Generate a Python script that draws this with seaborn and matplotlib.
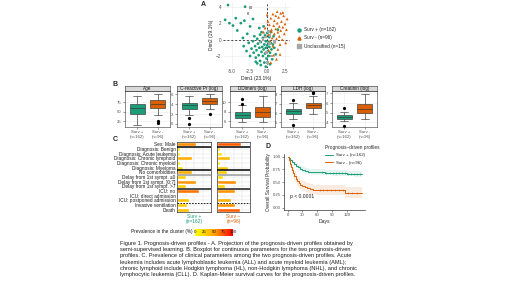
import numpy as np
import pandas as pd
import matplotlib as mpl
import matplotlib.pyplot as plt
from matplotlib.colors import LinearSegmentedColormap
from matplotlib.lines import Line2D
import seaborn as sns

sns.set_theme(style='white')
plt.rcParams['font.family'] = ['Liberation Sans', 'DejaVu Sans']

GREEN = '#1B9E77'
ORANGE = '#D95F02'
GREY = '#A6A6A6'
W, H = 520, 292

# ---------------- data ----------------
# A. projection (Dim1, Dim2)
plus_x = [-5.5, -3.1, -5.9, -5.3, -4.8, -4.4, -3.7, -3.2, -4.2, -2.4, -2.8, -3.4, -2.0,
          -2.6, -2.2, -2.0, -1.9, -1.8, -1.7, -1.6, -1.5, -1.4, -1.3, -1.2, -1.1, -1.0,
          -1.0, -0.9, -0.8, -0.8, -0.7, -0.6, -0.6, -0.5, -0.4, -0.4, -0.3, -0.3, -0.2,
          -0.2, -0.1, 0.0, 0.0, 0.1, 0.2, 0.2, 0.3, 0.3, 0.4, 0.5, 0.5, 0.6, 0.7, 0.8,
          0.9, 1.0, 1.2, -2.4, -1.4, -0.9, -2.9, -3.3, -1.1, -0.5, -0.2, 0.4, 1.5, -1.6]
plus_y = [4.2, 4.0, 2.4, 2.0, 1.7, 2.6, 2.0, 2.3, 1.1, 1.6, 0.7, 0.2, 2.5,
          -0.4, -1.1, -0.2, -1.6, 0.4, -0.8, -2.2, -1.3, 0.1, -0.5, -1.9, -1.0, 0.6,
          -2.6, -0.3, -1.5, 0.9, -0.9, -2.0, 0.2, -1.2, -0.6, -2.8, 0.5, -1.7, -0.2,
          -1.0, -2.3, -0.7, 0.8, -1.4, -0.3, -2.0, 0.3, -0.9, -1.6, -0.4, 0.9, -1.2, -2.4, -0.6,
          0.4, -1.0, -1.8, -2.0, -2.9, -3.1, -1.4, -0.8, 1.4, 1.6, -3.3, -3.0, 1.2, -2.7]
minus_x = [0.2, 0.3, 0.4, 0.5, 0.6, 0.7, 0.8, 0.8, 0.9, 1.0, 1.0, 1.1, 1.2, 1.2, 1.3,
           1.4, 1.5, 1.5, 1.6, 1.7, 1.7, 1.8, 1.9, 1.9, 2.0, 2.1, 2.2, 2.3, 2.4, 2.5,
           2.6, 2.7, 2.8, 0.1, 0.0, -0.3, -0.5, 0.9, 1.3, 0.5, 1.8, 0.2, 2.2, 1.4, 0.6]
minus_y = [0.6, 1.8, -0.2, 2.6, 1.2, 0.2, 3.1, -0.8, 1.7, 0.7, 2.3, -0.3, 1.3, 2.9, 0.1,
           2.0, 0.9, -1.2, 2.7, 0.4, 1.6, -0.6, 3.2, 1.1, 2.2, 0.0, 1.5, 2.9, 0.7, 1.9,
           -0.4, 1.2, 2.5, 2.2, 3.0, 1.4, 0.9, -1.9, -2.4, -2.8, -1.8, -1.3, 3.3, 3.4, 1.0]
uncl_x = [-2.7, -2.3, -0.2, 0.3, 0.2, 0.6, -1.0, 0.0, 1.0, -0.1, 0.4, -0.6]
uncl_y = [3.2, 3.9, 0.3, -0.5, 1.0, -2.0, -0.3, -2.8, -0.2, -1.6, 0.5, 0.0]
group_names = ['Surv + (n=162)', 'Surv - (n=96)', 'Unclassified (n=15)']

# B. continuous parameters (values giving the drawn boxes)
box_vars = ['Age', 'C-reactive Pr (log)', 'DDimers (log)', 'LDH (log)', 'Creatinin (log)']
age_plus = [16, 25, 35, 44, 50, 55, 60, 65, 68, 71.5, 80, 88, 92]
age_minus = [22, 25, 42, 60, 65, 68, 71.5, 74, 77, 80, 86, 92, 95]
crp_plus = [0.0, 1.1, 1.9, 3.1, 3.4, 3.6, 3.8, 4.0, 4.2, 4.3, 4.8, 5.2, 5.6]
crp_minus = [2.1, 3.1, 3.5, 4.0, 4.3, 4.5, 4.7, 4.9, 5.0, 5.2, 5.5, 5.8, 6.0]
dd_plus = [5.8, 6.2, 6.7, 6.7, 6.9, 7.1, 7.3, 7.5, 7.7, 7.85, 9.3, 9.7, 10.7]
dd_minus = [5.9, 6.3, 6.7, 7.0, 7.3, 7.6, 7.85, 8.2, 8.6, 8.9, 9.6, 10.5, 11.3]
ldh_plus = [4.75, 5.35, 5.6, 5.9, 6.0, 6.1, 6.2, 6.25, 6.3, 6.4, 6.7, 7.1, 7.45]
ldh_minus = [5.9, 6.1, 6.3, 6.5, 6.6, 6.8, 6.9, 6.95, 7.0, 7.1, 7.8, 8.1, 8.2]
creat_plus = [3.65, 4.1, 4.2, 4.35, 4.4, 4.5, 4.55, 4.6, 4.7, 4.75, 4.9, 5.1, 5.45]
creat_minus = [4.35, 4.6, 4.8, 4.95, 5.1, 5.25, 5.4, 5.55, 5.75, 5.95, 6.3, 6.6, 6.9]
box_plus = [age_plus, crp_plus, dd_plus, ldh_plus, creat_plus]
box_minus = [age_minus, crp_minus, dd_minus, ldh_minus, creat_minus]
box_ticks = [[25, 50, 75], [0, 2, 4, 6], [6, 8, 10], [5, 6, 7, 8], [4, 5, 6, 7]]
box_ylims = [(12, 104), (-0.55, 6.7), (4.95, 12.3), (4.57, 8.36), (3.58, 7.24)]
box_xlabels = ['Surv +\n(n=162)', 'Surv -\n(n=96)']

# C. prevalence of clinical parameters (%)
c_rows = ['Sex: Male', 'Diagnosis: Benign', 'Diagnosis: Acute leukemia',
          'Diagnosis: Chronic lymphoid', 'Diagnosis: Chronic myeloid', 'Diagnosis: Myeloma',
          'No comorbidities', 'Delay from 1st sympt. \u22640', 'Delay from 1st sympt. ]0;7]',
          'Delay from 1st sympt. >7', 'ICU: no', 'ICU: direct admission',
          'ICU: postponed admission', 'Invasive ventilation', 'Death']
c_plus = [57, 8, 9, 45, 8, 18, 45, 26, 55, 27, 65, 4, 34, 28, 34]
c_minus = [72, 10, 15, 38, 10, 32, 30, 18, 57, 25, 55, 5, 42, 55, 71]
c_colors = ['#FFFF00', '#FFA500', '#FF0000']

# D. Kaplan-Meier curves
km_t_plus = [0, 2, 5, 9, 13, 17, 21, 26, 30, 36, 42, 48, 60, 75, 90, 105, 120, 135, 150]
km_s_plus = [1.0, 0.97, 0.93, 0.89, 0.85, 0.82, 0.79, 0.76, 0.74, 0.72, 0.705, 0.70,
             0.695, 0.69, 0.68, 0.675, 0.67, 0.665, 0.665]
km_lo_plus = [1.0, 0.95, 0.90, 0.85, 0.81, 0.77, 0.74, 0.71, 0.69, 0.67, 0.655, 0.65,
              0.645, 0.64, 0.63, 0.625, 0.62, 0.61, 0.61]
km_hi_plus = [1.0, 0.99, 0.96, 0.93, 0.90, 0.87, 0.84, 0.81, 0.79, 0.77, 0.76, 0.755,
              0.75, 0.745, 0.735, 0.73, 0.725, 0.72, 0.72]
km_t_minus = [0, 2, 4, 6, 8, 10, 13, 16, 19, 22, 26, 30, 35, 40, 46, 52, 58, 65, 117, 150]
km_s_minus = [1.0, 0.93, 0.86, 0.80, 0.74, 0.68, 0.62, 0.57, 0.52, 0.48, 0.45, 0.42,
              0.40, 0.38, 0.36, 0.35, 0.345, 0.34, 0.29, 0.29]
km_lo_minus = [1.0, 0.88, 0.79, 0.72, 0.65, 0.59, 0.53, 0.48, 0.43, 0.39, 0.36, 0.33,
               0.31, 0.29, 0.27, 0.26, 0.255, 0.25, 0.19, 0.19]
km_hi_minus = [1.0, 0.98, 0.93, 0.88, 0.83, 0.78, 0.72, 0.67, 0.62, 0.58, 0.55, 0.52,
               0.50, 0.48, 0.46, 0.45, 0.44, 0.44, 0.41, 0.41]
cens_plus = [70, 78, 85, 92, 98, 104, 110, 116, 122, 128, 134, 140, 146]
cens_minus = [66, 72, 80, 88, 96, 104, 112, 122, 130, 140]

caption = (
    "Figure 1. Prognosis-driven profiles - A. Projection of the prognosis-driven profiles obtained by\n"
    "semi-supervised learning. B. Boxplot for continuous parameters for the two prognosis-driven\n"
    "profiles. C. Prevalence of clinical parameters among the two prognosis-driven profiles. Acute\n"
    "leukemia includes acute lymphoblastic leukemia (ALL) and acute myeloid leukemia (AML);\n"
    "chronic lymphoid include Hodgkin lymphoma (HL), non-Hodgkin lymphoma (NHL), and chronic\n"
    "lymphocytic leukemia (CLL). D. Kaplan-Meier survival curves for the prognosis-driven profiles.")


def px_box(x0, y0, x1, y1):
    return [x0 / W, 1 - y1 / H, (x1 - x0) / W, (y1 - y0) / H]


def small_ticks(ax, size=3.3):
    ax.tick_params(labelsize=size, length=1.5, width=0.4, pad=1, colors='#4D4D4D',
                   labelcolor='#4D4D4D', bottom=True, left=True)


fig = plt.figure(figsize=(5.2, 2.92), dpi=100)
fig.patch.set_facecolor('white')

# ---------------- A ----------------
ax = fig.add_axes(px_box(223, 2, 290, 68))
dfa = pd.DataFrame({
    'Dim1': plus_x + minus_x + uncl_x,
    'Dim2': plus_y + minus_y + uncl_y,
    'group': [group_names[0]] * len(plus_x) + [group_names[1]] * len(minus_x)
             + [group_names[2]] * len(uncl_x)})
pal_a = dict(zip(group_names, [GREEN, ORANGE, GREY]))
mk_a = dict(zip(group_names, ['o', '^', 's']))
sns.scatterplot(data=dfa, x='Dim1', y='Dim2', hue='group', style='group', palette=pal_a,
                markers=mk_a, s=4, linewidth=0, legend=False, ax=ax, zorder=3)
ax.axvline(0, color='#444444', ls=(0, (2, 2)), lw=0.7, zorder=2)
ax.axhline(0, color='#444444', ls=(0, (2, 2)), lw=0.7, zorder=2)
ax.set_xlim(-6.2, 3.2)
ax.set_ylim(-3.46, 4.57)
ax.set_xticks([-5, -2.5, 0, 2.5])
ax.set_xticklabels(['-5.0', '-2.5', '0.0', '2.5'])
ax.set_yticks([-2, 0, 2, 4])
ax.grid(True, color='#EBEBEB', lw=0.4)
for s in ax.spines.values():
    s.set_visible(False)
small_ticks(ax)
ax.tick_params(length=0)
ax.set_xlabel('Dim1 (23.1%)', fontsize=3.6, labelpad=1.5, color='#222222')
ax.set_ylabel('Dim2 (19.1%)', fontsize=3.6, labelpad=1.5, color='#222222')
handles = [Line2D([], [], marker=m, ls='none', color=c, markersize=2.2)
           for m, c in zip(['o', '^', 's'], [GREEN, ORANGE, GREY])]
ax.legend(handles, group_names, loc='center left', bbox_to_anchor=(295 / W, 1 - 38 / H),
          bbox_transform=fig.transFigure, frameon=False, fontsize=3.4, handlelength=0.8,
          handletextpad=0.5, labelspacing=0.7, borderpad=0)

# ---------------- B ----------------
facet_x = [(125, 170), (177, 222), (230, 275), (281, 325), (332, 377)]
for i, var in enumerate(box_vars):
    x0, x1 = facet_x[i]
    ax = fig.add_axes(px_box(x0, 91, x1, 126.5))
    p, m = box_plus[i], box_minus[i]
    dfb = pd.DataFrame({'group': [box_xlabels[0]] * len(p) + [box_xlabels[1]] * len(m),
                        'value': p + m})
    sns.boxplot(data=dfb, x='group', y='value', hue='group', palette=[GREEN, ORANGE],
                saturation=1, width=0.75, linewidth=0.45, linecolor='#333333', legend=False,
                flierprops=dict(marker='o', markerfacecolor='black', markeredgecolor='black',
                                markersize=1.3), ax=ax)
    ax.set_xlim(-0.6, 1.6)
    ax.set_ylim(*box_ylims[i])
    ax.set_yticks(box_ticks[i])
    ax.grid(True, color='#EBEBEB', lw=0.4)
    ax.set_axisbelow(True)
    for s in ax.spines.values():
        s.set_color('#333333')
        s.set_linewidth(0.4)
    small_ticks(ax, 3.1)
    ax.set_xlabel('')
    ax.set_ylabel('')
    sax = fig.add_axes(px_box(x0, 85.5, x1, 91))
    sax.set_facecolor('#D9D9D9')
    sax.set_xticks([])
    sax.set_yticks([])
    for s in sax.spines.values():
        s.set_color('#333333')
        s.set_linewidth(0.4)
    sax.text(0.5, 0.45, var, ha='center', va='center', fontsize=3.3, color='#1A1A1A',
             transform=sax.transAxes)

# ---------------- C ----------------
cmap = LinearSegmentedColormap.from_list('prev', c_colors)
col_x = [(177, 211), (217, 250)]
for j, vals in enumerate([c_plus, c_minus]):
    x0, x1 = col_x[j]
    ax = fig.add_axes(px_box(x0, 142, x1, 212))
    dfc = pd.DataFrame({'row': c_rows, 'pct': vals})
    sns.barplot(data=dfc, x='pct', y='row', hue='row', palette=[cmap(v / 100) for v in vals],
                saturation=1, width=0.9, legend=False, orient='h', ax=ax, zorder=2)
    ax.set_xlim(0, 100)
    ax.set_ylim(len(c_rows) - 0.5, -0.5)
    ax.set_xticks([25, 50, 75])
    ax.set_xticklabels([])
    ax.grid(True, color='#E0E0E0', lw=0.35)
    ax.set_axisbelow(True)
    ax.tick_params(length=0, labelsize=3.4, pad=1, labelcolor='#1A1A1A')
    if j == 1:
        ax.set_yticklabels([])
    ax.set_xlabel('')
    ax.set_ylabel('')
    for s in ax.spines.values():
        s.set_color('#333333')
        s.set_linewidth(0.5)
    ax.axhline(0.5, color='black', lw=1.1, zorder=4)
    ax.axhline(5.5, color='black', lw=1.1, zorder=4)
    ax.axhline(6.5, color='#9A9A9A', lw=1.1, zorder=4)
    ax.axhline(9.5, color='#4A4A4A', lw=1.4, zorder=4)
    ax.axhline(12.5, color='black', lw=0.6, ls=(0, (2, 1.5)), zorder=4)

fig.text(194 / W, 1 - 216.5 / H, 'Surv +', color=GREEN, fontsize=3.5, ha='center', va='center')
fig.text(194 / W, 1 - 222 / H, '(n=162)', color=GREEN, fontsize=3.5, ha='center', va='center')
fig.text(233.5 / W, 1 - 216.5 / H, 'Surv \u2013', color=ORANGE, fontsize=3.5, ha='center', va='center')
fig.text(233.5 / W, 1 - 222 / H, '(n=96)', color=ORANGE, fontsize=3.5, ha='center', va='center')

cax = fig.add_axes(px_box(195, 228.5, 233, 235.5))
cb = fig.colorbar(mpl.cm.ScalarMappable(norm=mpl.colors.Normalize(0, 100), cmap=cmap),
                  cax=cax, orientation='horizontal')
cb.set_ticks([])
cb.outline.set_visible(False)
for v in [0, 25, 50, 75, 100]:
    cax.text(v, 0.5, str(v), ha='center', va='center', fontsize=3.2, color='#1A1A1A')
fig.text(193 / W, 1 - 232 / H, 'Prevalence in the cluster (%)', ha='right', va='center',
         fontsize=3.4, color='#1A1A1A')

# ---------------- D ----------------
ax = fig.add_axes(px_box(284, 154, 365, 210))
km = [(km_t_plus, km_s_plus, km_lo_plus, km_hi_plus, cens_plus, GREEN, group_names[0]),
      (km_t_minus, km_s_minus, km_lo_minus, km_hi_minus, cens_minus, ORANGE, group_names[1])]
for t, s, lo, hi, cens, col, lab in km:
    ax.fill_between(t, lo, hi, step='post', color=col, alpha=0.12, lw=0)
    sns.lineplot(x=t, y=s, drawstyle='steps-post', color=col, lw=0.7, ax=ax, label=lab)
    idx = np.searchsorted(t, cens, side='right') - 1
    ax.plot(cens, np.array(s)[idx], ls='none', marker='+', ms=1.6, mew=0.4, color=col)
ax.set_xlim(-7.5, 157)
ax.set_ylim(-0.045, 1.053)
ax.set_xticks([0, 30, 60, 90, 120])
ax.set_yticks([0, 0.25, 0.5, 0.75, 1.0])
ax.set_yticklabels(['0.00', '0.25', '0.50', '0.75', '1.00'])
sns.despine(ax=ax)
for sp in ['left', 'bottom']:
    ax.spines[sp].set_linewidth(0.4)
    ax.spines[sp].set_color('black')
small_ticks(ax, 3.1)
ax.set_xlabel('Days', fontsize=3.6, labelpad=1)
ax.set_ylabel('Overall Survival Probability', fontsize=3.4, labelpad=1)
ax.text(5, 0.2, 'p < 0.0001', fontsize=3.6, color='#1A1A1A')
ax.legend(title='Prognosis\u2013driven profiles', loc='upper left',
          bbox_to_anchor=(323 / W, 1 - 143 / H), bbox_transform=fig.transFigure,
          fontsize=3.2, title_fontsize=3.4, frameon=False, handlelength=1.8,
          handletextpad=0.6, labelspacing=0.7, borderpad=0, alignment='left')

# ---------------- labels and caption ----------------
for letter, (lx, ly) in {'A': (203, 5), 'B': (115, 85), 'C': (115, 140), 'D': (268, 146)}.items():
    fig.text(lx / W, 1 - ly / H, letter, fontsize=5, fontweight='bold', ha='center', va='center')

fig.text(120 / W, 1 - 241 / H, caption, fontsize=4.05, ha='left', va='top', linespacing=1.3,
         color='#1A1A1A')

fig.savefig('out.png', dpi=100)
